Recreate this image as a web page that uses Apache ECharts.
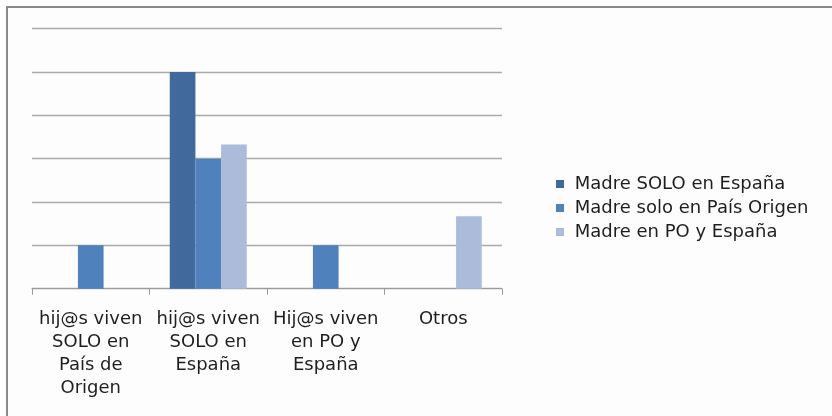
<!DOCTYPE html>
<html>
<head>
<meta charset="utf-8">
<script src="https://cdn.jsdelivr.net/npm/echarts@6/dist/echarts.min.js"></script>
<style>
  html, body { margin: 0; padding: 0; background: #fff; }
  #frame {
    position: absolute; left: 6px; top: 6px; width: 840px; height: 420px;
    border-top: 2px solid #8a8a8a; border-left: 2px solid #8a8a8a;
    background: #fdfdfd;
  }
  #chart { position: absolute; left: 0; top: 0; width: 832px; height: 416px; }
</style>
</head>
<body>
<div id="frame"></div>
<div id="chart"></div>
<script>
// categorías del eje X
const categories = [
  "hij@s viven\nSOLO en\nPaís de\nOrigen",
  "hij@s viven\nSOLO en\nEspaña",
  "Hij@s viven\nen PO y\nEspaña",
  "Otros",
];
const seriesNames = [
  "Madre SOLO en España",
  "Madre solo en País Origen",
  "Madre en PO y España",
];
// valores
const madreSoloEspana = [null, 5, null, null];
const madreSoloPaisOrigen = [1, 3, 1, null];
const madrePOyEspana = [null, 3.33, null, 1.67];
const colors = ["#41699c", "#4f81bd", "#abbbd9"];

const chart = echarts.init(document.getElementById("chart"));

const option = {
  animation: false,
  backgroundColor: "transparent",
  grid: { left: 32, right: 330, top: 28.7, bottom: 127.3 },
  legend: {
    orient: "vertical",
    left: 551,
    top: 170,
    itemWidth: 8,
    itemHeight: 8,
    itemGap: 6,
    icon: "rect",
    formatter: (name) => " " + name,
    textStyle: { fontFamily: "DejaVu Sans", fontSize: 18, color: "#1e1e1e", lineHeight: 18 },
    data: seriesNames,
  },
  xAxis: {
    type: "category",
    data: categories,
    axisLine: { lineStyle: { color: "#9a9a9a", width: 1 } },
    axisTick: { show: true, length: 6, lineStyle: { color: "#9a9a9a" } },
    axisLabel: {
      interval: 0,
      margin: 19,
      fontFamily: "DejaVu Sans",
      fontSize: 18,
      lineHeight: 23,
      color: "#1e1e1e",
    },
  },
  yAxis: {
    type: "value",
    min: 0,
    max: 6,
    interval: 1,
    axisLabel: { show: false },
    axisLine: { show: false },
    axisTick: { show: false },
    splitLine: { lineStyle: { color: "#aaaaaa", width: 1.3 } },
  },
  series: [
    { name: seriesNames[0], type: "bar", data: madreSoloEspana },
    { name: seriesNames[1], type: "bar", data: madreSoloPaisOrigen },
    { name: seriesNames[2], type: "bar", data: madrePOyEspana },
  ].map((s, i) => ({
    ...s,
    barGap: "0%",
    barCategoryGap: "34.5%",
    itemStyle: { color: colors[i] },
  })),
};

chart.setOption(option);
</script>
</body>
</html>
